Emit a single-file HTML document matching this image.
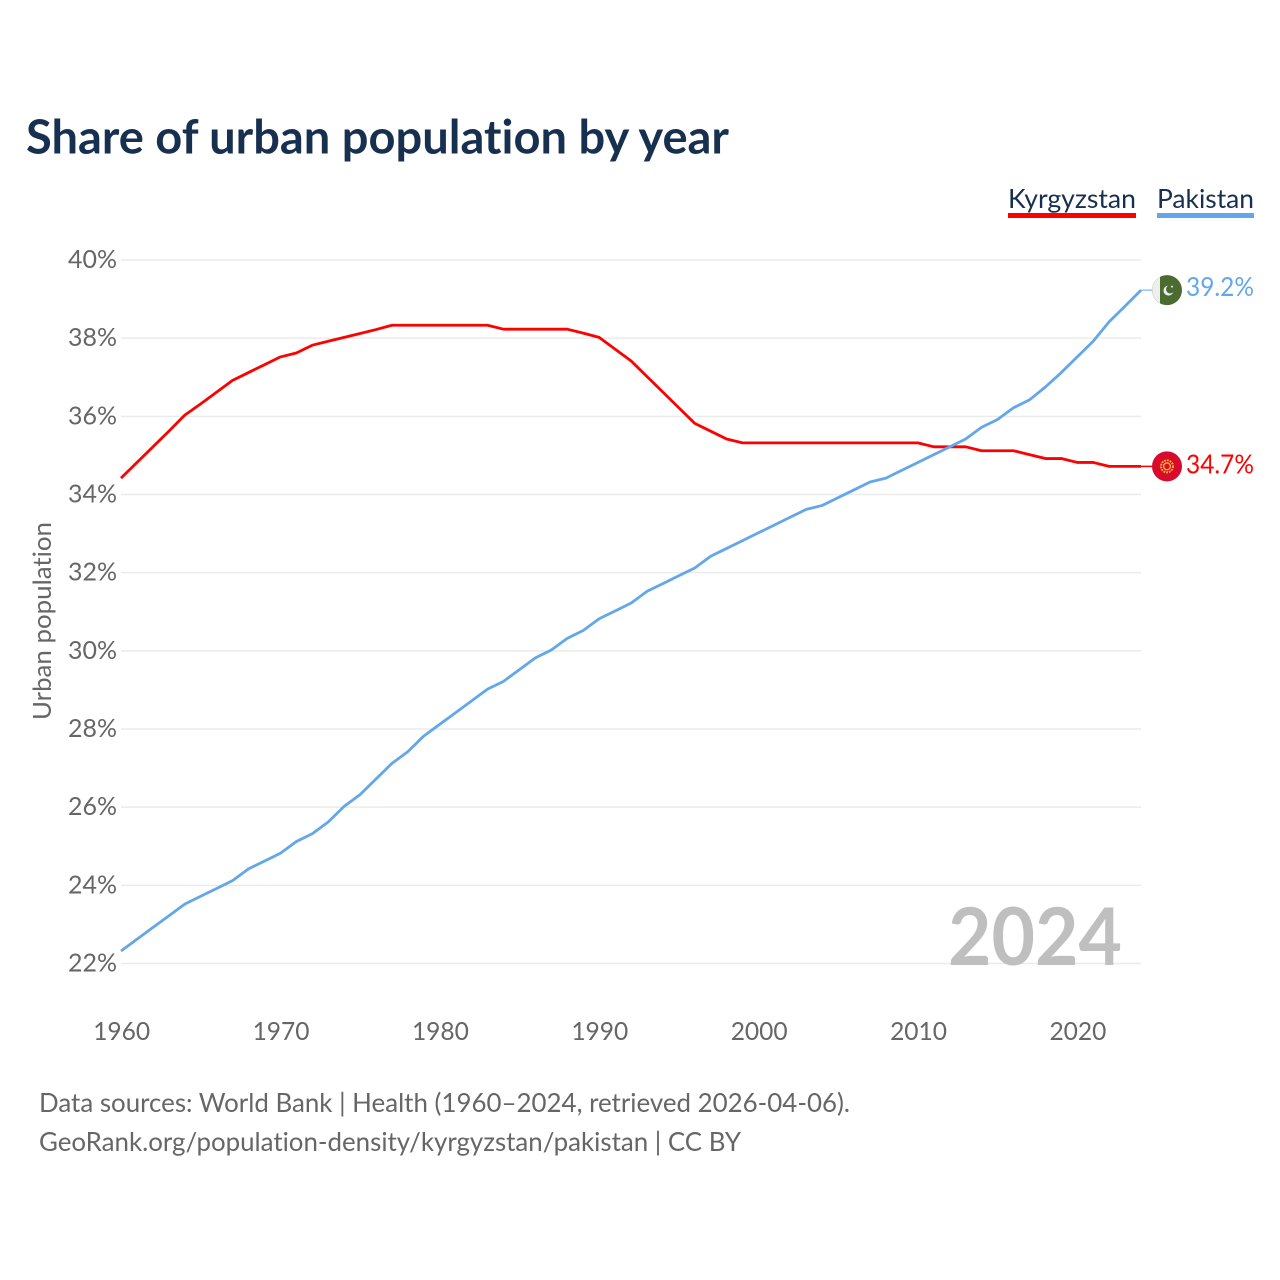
<!DOCTYPE html>
<html lang="en">
<head>
<meta charset="utf-8">
<title>Share of urban population by year</title>
<style>
html,body{margin:0;padding:0;background:#fff;}
svg{display:block;}
text{font-family:"Lato","Carlito","Liberation Sans",sans-serif;font-variant-ligatures:none;font-feature-settings:"liga" 0,"dlig" 0,"clig" 0;}
</style>
</head>
<body>
<svg id="chart" xmlns="http://www.w3.org/2000/svg" width="1280" height="1280" viewBox="0 0 1280 1280">
  <rect width="1280" height="1280" fill="#ffffff"/>
  <text x="26" y="153.5" font-size="46.5" font-weight="700" fill="#18304f" textLength="703" lengthAdjust="spacingAndGlyphs">Share of urban population by year</text>

  <g>
    <text x="1008" y="208" font-size="26" fill="#18304f" textLength="128" lengthAdjust="spacingAndGlyphs">Kyrgyzstan</text>
    <rect x="1008" y="213" width="128" height="5" fill="#ff0000"/>
  </g>
  <g>
    <text x="1157" y="208" font-size="26" fill="#18304f" textLength="97" lengthAdjust="spacingAndGlyphs">Pakistan</text>
    <rect x="1157" y="213" width="97" height="5" fill="#63a7ea"/>
  </g>

  <g id="grid"></g>
  <g id="yticks"></g>
  <g id="xticks"></g>

  <text transform="translate(51,720) rotate(-90)" font-size="25" fill="#666666" textLength="198" lengthAdjust="spacingAndGlyphs">Urban population</text>
  <text x="948" y="965" font-size="80" font-weight="700" fill="#bfbfbf" textLength="174" lengthAdjust="spacingAndGlyphs">2024</text>

  <g id="series"></g>
  <g id="endmarks"></g>

  <text x="39" y="1112" font-size="26" fill="#666666" textLength="811" lengthAdjust="spacingAndGlyphs">Data sources: World Bank | Health (1960–2024, retrieved 2026-04-06).</text>
  <text x="39" y="1151" font-size="26" fill="#666666" textLength="702" lengthAdjust="spacingAndGlyphs">GeoRank.org/population-density/kyrgyzstan/pakistan | CC BY</text>
</svg>
<script>
const years = [1960,1961,1962,1963,1964,1965,1966,1967,1968,1969,1970,1971,1972,1973,1974,1975,1976,1977,1978,1979,1980,1981,1982,1983,1984,1985,1986,1987,1988,1989,1990,1991,1992,1993,1994,1995,1996,1997,1998,1999,2000,2001,2002,2003,2004,2005,2006,2007,2008,2009,2010,2011,2012,2013,2014,2015,2016,2017,2018,2019,2020,2021,2022,2023,2024];
const kyrgyzstan = [34.42,34.82,35.22,35.62,36.03,36.32,36.62,36.92,37.12,37.32,37.52,37.62,37.82,37.92,38.02,38.12,38.22,38.33,38.33,38.33,38.33,38.33,38.33,38.33,38.23,38.23,38.23,38.23,38.23,38.13,38.02,37.72,37.42,37.02,36.62,36.22,35.82,35.62,35.42,35.32,35.32,35.32,35.32,35.32,35.32,35.32,35.32,35.32,35.32,35.32,35.32,35.22,35.22,35.22,35.12,35.12,35.12,35.02,34.92,34.92,34.82,34.82,34.72,34.72,34.72];
const pakistan = [22.32,22.62,22.92,23.22,23.52,23.72,23.92,24.12,24.42,24.62,24.82,25.12,25.32,25.62,26.02,26.32,26.72,27.12,27.42,27.82,28.12,28.42,28.72,29.02,29.22,29.52,29.82,30.02,30.32,30.52,30.82,31.02,31.22,31.52,31.72,31.92,32.12,32.42,32.62,32.82,33.02,33.22,33.42,33.62,33.72,33.92,34.12,34.32,34.42,34.62,34.82,35.02,35.22,35.42,35.72,35.92,36.22,36.42,36.75,37.12,37.52,37.92,38.42,38.82,39.23];
const yTickValues = [22,24,26,28,30,32,34,36,38,40];
const xTickValues = [1960,1970,1980,1990,2000,2010,2020];

const NS = 'http://www.w3.org/2000/svg';
function xScale(year){ return 121 + (year - 1960) * (1020 / 64); }
function yScale(v){ return 963.5 - (v - 22) * (703.5 / 18); }
function make(tag, parent, attrs, text){
  const el = document.createElementNS(NS, tag);
  for (const k in attrs) el.setAttribute(k, attrs[k]);
  if (text !== undefined) el.textContent = text;
  parent.appendChild(el);
  return el;
}

const grid = document.getElementById('grid');
const yticks = document.getElementById('yticks');
const xticks = document.getElementById('xticks');
yTickValues.forEach(function(v){
  const line = make('line', grid, {x1:121, x2:1141, y1:yScale(v), y2:yScale(v), stroke:'#ebebeb', 'stroke-width':1.5});
  
  
  const label = make('text', yticks, {x:117, y:yScale(v) + 8, 'text-anchor':'end', 'font-size':25, fill:'#666666', textLength:49, lengthAdjust:'spacingAndGlyphs'}, v + '%');
  
  
});
xTickValues.forEach(function(y){
  const label = make('text', xticks, {x:xScale(y) + 0.7, y:1040, 'text-anchor':'middle', 'font-size':25, fill:'#666666', textLength:57, lengthAdjust:'spacingAndGlyphs'}, String(y));
  
  
});

const seriesGroup = document.getElementById('series');
function linePath(values){
  return values.map(function(v, i){
    return (i ? 'L' : 'M') + xScale(years[i]).toFixed(2) + ' ' + yScale(v).toFixed(2);
  }).join(' ');
}
const lineKg = make('path', seriesGroup, {d:linePath(kyrgyzstan), fill:'none', stroke:'#ff0000', 'stroke-width':2.8, 'stroke-linejoin':'round'});


const linePk = make('path', seriesGroup, {d:linePath(pakistan), fill:'none', stroke:'#63a7ea', 'stroke-width':2.8, 'stroke-linejoin':'round'});



const endmarks = document.getElementById('endmarks');
const lastYear = years[years.length - 1];
const endX = xScale(lastYear);
const flagX = 1167;

// Pakistan end marker
const pkVal = pakistan[pakistan.length - 1];
const pkY = yScale(pkVal);
const pkLead = make('line', endmarks, {x1:endX, x2:flagX - 15, y1:pkY, y2:pkY, stroke:'#63a7ea', 'stroke-width':1});


const pkFlag = make('g', endmarks, {transform:'translate(' + flagX + ',' + pkY + ')'});


make('circle', pkFlag, {r:15, fill:'#4c6b30'});
make('path', pkFlag, {d:'M-7 -13.2 A15 15 0 0 0 -7 13.2 Z', fill:'#eeeeee'});
make('circle', pkFlag, {cx:1.5, cy:0.5, r:5, fill:'#eeeeee'});
make('circle', pkFlag, {cx:3.2, cy:-0.8, r:4.2, fill:'#4c6b30'});
make('circle', pkFlag, {cx:5, cy:-3.5, r:1, fill:'#eeeeee'});
const pkLabel = make('text', endmarks, {x:1186, y:pkY + 6, 'font-size':26, fill:'#63a7ea', textLength:68, lengthAdjust:'spacingAndGlyphs'}, pkVal.toFixed(1) + '%');



// Kyrgyzstan end marker
const kgVal = kyrgyzstan[kyrgyzstan.length - 1];
const kgY = yScale(kgVal);
const kgLead = make('line', endmarks, {x1:endX, x2:flagX - 15, y1:kgY, y2:kgY, stroke:'#ff0000', 'stroke-width':1.5});


const kgFlag = make('g', endmarks, {transform:'translate(' + flagX + ',' + kgY + ')'});


make('circle', kgFlag, {r:15, fill:'#d90b2c'});
make('circle', kgFlag, {r:6, fill:'none', stroke:'#f0b32e', 'stroke-width':2, 'stroke-dasharray':'1.8 1'});
make('circle', kgFlag, {r:3.4, fill:'none', stroke:'#f0b32e', 'stroke-width':1.4});
const kgLabel = make('text', endmarks, {x:1186, y:kgY + 7, 'font-size':26, fill:'#ff0000', textLength:68, lengthAdjust:'spacingAndGlyphs'}, kgVal.toFixed(1) + '%');


</script>
</body>
</html>
